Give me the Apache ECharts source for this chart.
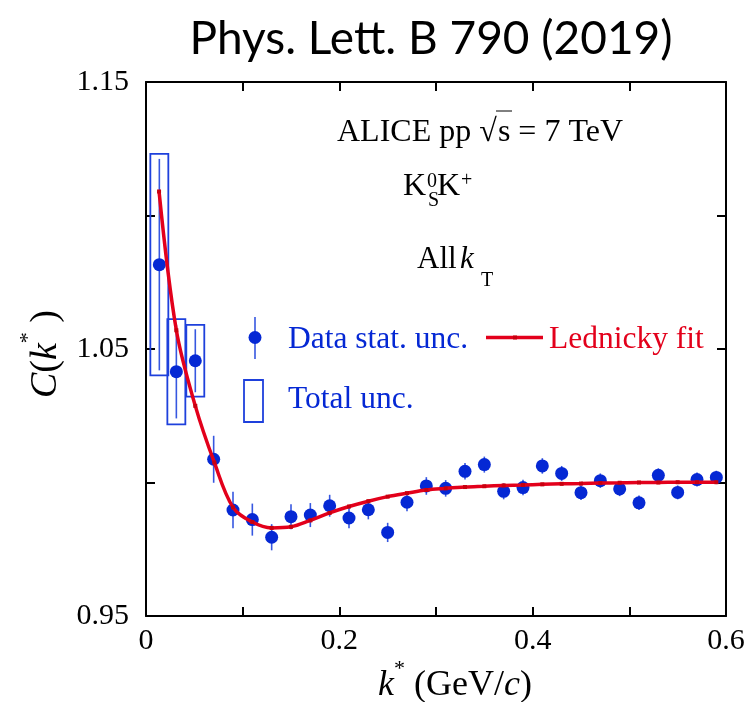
<!DOCTYPE html>
<html lang="en">
<head>
    <meta charset="UTF-8">
    <title>K0S K+ correlation function</title>
    <script src="https://cdn.jsdelivr.net/npm/echarts@6/dist/echarts.min.js"></script>
    <style>
        html, body { margin: 0; padding: 0; background: #fff; }
        #chart { width: 748px; height: 702px; }
    </style>
</head>
<body>
    <div id="chart"></div>
    <script>
        // k* bin centres (GeV/c)
        const kStar = [0.0138, 0.0314, 0.051, 0.07, 0.09, 0.11, 0.13, 0.15, 0.17, 0.19,
                       0.21, 0.23, 0.25, 0.27, 0.29, 0.31, 0.33, 0.35, 0.37, 0.39,
                       0.41, 0.43, 0.45, 0.47, 0.49, 0.51, 0.53, 0.55, 0.57, 0.59];
        // measured C(k*)
        const cData = [1.0816, 1.0415, 1.0456, 1.0087, 0.9897, 0.9861, 0.9795, 0.9872, 0.9878, 0.9913,
                       0.9867, 0.9898, 0.9813, 0.9926, 0.9987, 0.9978, 1.0042, 1.0067, 0.9967, 0.9981,
                       1.0062, 1.0034, 0.9962, 1.0007, 0.9976, 0.9924, 1.0027, 0.9963, 1.0011, 1.0019];
        // statistical uncertainty
        const statErr = [0.0396, 0.0175, 0.0118, 0.0088, 0.0068, 0.006, 0.0049, 0.0047, 0.0045, 0.0041,
                         0.0038, 0.0036, 0.0036, 0.0034, 0.0033, 0.0031, 0.0031, 0.003, 0.003, 0.0029,
                         0.0029, 0.0028, 0.0028, 0.0027, 0.0027, 0.0027, 0.0026, 0.0026, 0.0026, 0.0025];
        // total uncertainty boxes (only visible for the first bins)
        const totErr = [0.0415, 0.0197, 0.0134];
        // Lednicky fit evaluated at the bin centres
        const fitK = [0.0135, 0.0314, 0.051, 0.0707, 0.09, 0.11, 0.13, 0.15, 0.17, 0.19,
                      0.21, 0.23, 0.25, 0.27, 0.29, 0.31, 0.33, 0.35, 0.37, 0.39,
                      0.41, 0.43, 0.45, 0.47, 0.49, 0.51, 0.53, 0.55, 0.57, 0.59];
        const fitC = [1.109, 1.057, 1.0287, 1.0075, 0.9907, 0.9852, 0.983, 0.9834, 0.9858, 0.9886,
                      0.991, 0.993, 0.9947, 0.996, 0.9972, 0.9978, 0.9983, 0.9986, 0.9989, 0.9991,
                      0.9993, 0.9995, 0.9996, 0.9998, 0.9999, 1.0, 1.0, 1.0001, 1.0001, 1.0001];

        const BLUE = '#0528d4';
        const BAR_BLUE = '#3657e0';
        const BOX_BLUE = '#1e40dc';
        const RED = '#e3001b';
        const SERIF = '"Liberation Serif", "DejaVu Serif", serif';

        const pts = kStar.map((k, i) => [k, cData[i], statErr[i]]);
        const boxes = totErr.map((e, i) => [kStar[i], cData[i], e]);
        const fit = fitK.map((k, i) => [k, fitC[i]]);

        const chart = echarts.init(document.getElementById('chart'));

        const tickStyle = { show: true, inside: true, length: 9, lineStyle: { color: '#000', width: 2 } };
        const lineStyle = { show: true, onZero: false, lineStyle: { color: '#000', width: 2 } };

        const option = {
            animation: false,
            grid: { left: 146, right: 22, top: 82, bottom: 86, containLabel: false },
            xAxis: [{
                type: 'value', min: 0, max: 0.6, interval: 0.1, position: 'bottom',
                axisLine: lineStyle, axisTick: tickStyle, splitLine: { show: false },
                axisLabel: {
                    margin: 10, color: '#000', fontFamily: SERIF, fontSize: 30,
                    formatter: v => (Math.round(v * 10) % 2 === 0) ? (v === 0 ? '0' : v.toFixed(1)) : ''
                }
            }, {
                type: 'value', min: 0, max: 0.6, interval: 0.1, position: 'top',
                axisLine: lineStyle, axisTick: tickStyle, splitLine: { show: false },
                axisLabel: { show: false }
            }],
            yAxis: [{
                type: 'value', min: 0.95, max: 1.15, interval: 0.05, position: 'left',
                axisLine: lineStyle, axisTick: tickStyle, splitLine: { show: false },
                axisLabel: {
                    margin: 17, color: '#000', fontFamily: SERIF, fontSize: 30,
                    formatter: v => (Math.round(v * 100) % 10 === 5) ? v.toFixed(2) : ''
                }
            }, {
                type: 'value', min: 0.95, max: 1.15, interval: 0.05, position: 'right',
                axisLine: lineStyle, axisTick: tickStyle, splitLine: { show: false },
                axisLabel: { show: false }
            }],
            series: [{
                // total uncertainty boxes
                type: 'custom',
                data: boxes,
                z: 2,
                renderItem: (params, api) => {
                    const x = api.value(0), y = api.value(1), e = api.value(2);
                    const a = api.coord([x - 0.0093, y + e]);
                    const b = api.coord([x + 0.0093, y - e]);
                    return {
                        type: 'rect',
                        shape: { x: a[0], y: a[1], width: b[0] - a[0], height: b[1] - a[1] },
                        style: { fill: 'none', stroke: BOX_BLUE, lineWidth: 1.8 }
                    };
                }
            }, {
                // statistical error bars
                type: 'custom',
                data: pts,
                z: 3,
                renderItem: (params, api) => {
                    const x = api.value(0), y = api.value(1), e = api.value(2);
                    const t = api.coord([x, y + e]);
                    const b = api.coord([x, y - e]);
                    return {
                        type: 'line',
                        shape: { x1: t[0], y1: t[1], x2: b[0], y2: b[1] },
                        style: { stroke: BAR_BLUE, lineWidth: 1.6 }
                    };
                }
            }, {
                type: 'scatter',
                data: pts.map(p => [p[0], p[1]]),
                symbol: 'circle',
                symbolSize: 13,
                itemStyle: { color: BLUE, opacity: 1 },
                z: 4
            }, {
                type: 'line',
                data: fit,
                smooth: 0.35,
                symbol: 'rect',
                symbolSize: 4,
                showSymbol: true,
                itemStyle: { color: '#c8000f' },
                lineStyle: { color: RED, width: 3.5 },
                z: 5
            }],
            graphic: [
                // title
                { type: 'text', x: 431, y: 39, style: { text: 'Phys. Lett. B 790 (2019)', font: '46px Lato', fill: '#000', align: 'center', verticalAlign: 'middle' } },
                // annotations
                { type: 'text', x: 337, y: 133, style: { text: 'ALICE pp √', font: '32px ' + SERIF, fill: '#000', align: 'left', verticalAlign: 'middle' } },
                { type: 'text', x: 498, y: 133, style: { text: 's', font: '32px ' + SERIF, fill: '#000', align: 'left', verticalAlign: 'middle' } },
                { type: 'text', x: 623, y: 133, style: { text: '= 7 TeV', font: '32px ' + SERIF, fill: '#000', align: 'right', verticalAlign: 'middle' } },
                { type: 'line', shape: { x1: 496, y1: 111, x2: 512, y2: 111 }, style: { stroke: '#000', lineWidth: 1 } },
                { type: 'text', x: 403, y: 187, style: { text: 'K', font: '32px ' + SERIF, fill: '#000', verticalAlign: 'middle' } },
                { type: 'text', x: 427, y: 182, style: { text: '0', font: '20px ' + SERIF, fill: '#000', verticalAlign: 'middle' } },
                { type: 'text', x: 428, y: 201, style: { text: 'S', font: '20px ' + SERIF, fill: '#000', verticalAlign: 'middle' } },
                { type: 'text', x: 437, y: 187, style: { text: 'K', font: '32px ' + SERIF, fill: '#000', verticalAlign: 'middle' } },
                { type: 'text', x: 461, y: 181, style: { text: '+', font: '20px ' + SERIF, fill: '#000', verticalAlign: 'middle' } },
                { type: 'text', x: 417, y: 260, style: { text: 'All ', font: '31px ' + SERIF, fill: '#000', verticalAlign: 'middle' } },
                { type: 'text', x: 460, y: 260, style: { text: 'k', font: 'italic 31px ' + SERIF, fill: '#000', verticalAlign: 'middle' } },
                { type: 'text', x: 481, y: 281, style: { text: 'T', font: '20px ' + SERIF, fill: '#000', verticalAlign: 'middle' } },
                // legend
                { type: 'line', shape: { x1: 255, y1: 317, x2: 255, y2: 359 }, style: { stroke: BAR_BLUE, lineWidth: 1.6 } },
                { type: 'circle', shape: { cx: 255, cy: 337.5, r: 6.5 }, style: { fill: BLUE } },
                { type: 'text', x: 288, y: 340, style: { text: 'Data stat. unc.', font: '31.5px ' + SERIF, fill: BLUE, verticalAlign: 'middle' } },
                { type: 'rect', shape: { x: 244, y: 380, width: 19, height: 42 }, style: { fill: 'none', stroke: BOX_BLUE, lineWidth: 1.8 } },
                { type: 'text', x: 288, y: 400, style: { text: 'Total unc.', font: '31.5px ' + SERIF, fill: BLUE, verticalAlign: 'middle' } },
                { type: 'line', shape: { x1: 486, y1: 337.5, x2: 543, y2: 337.5 }, style: { stroke: RED, lineWidth: 3.5 } },
                { type: 'rect', shape: { x: 513, y: 335.5, width: 4, height: 4 }, style: { fill: '#c8000f' } },
                { type: 'text', x: 549, y: 340, style: { text: 'Lednicky fit', font: '31.5px ' + SERIF, fill: RED, verticalAlign: 'middle' } },
                // axis titles
                {
                    type: 'text', x: 455, y: 681,
                    style: {
                        text: '{i|k}{s|*}{n| (GeV/}{i|c}{n|)}', align: 'center', verticalAlign: 'middle', fill: '#000',
                        rich: {
                            i: { fontFamily: SERIF, fontStyle: 'italic', fontSize: 36, lineHeight: 46, verticalAlign: 'bottom' },
                            n: { fontFamily: SERIF, fontSize: 36, lineHeight: 46, verticalAlign: 'bottom' },
                            s: { fontFamily: SERIF, fontSize: 22, lineHeight: 22, verticalAlign: 'top' }
                        }
                    }
                },
                {
                    type: 'text', x: 41, y: 354, rotation: Math.PI / 2,
                    style: {
                        text: '{i|C}{n|(}{i|k}{s|*}{n| )}', align: 'center', verticalAlign: 'middle', fill: '#000',
                        rich: {
                            i: { fontFamily: SERIF, fontStyle: 'italic', fontSize: 38, lineHeight: 48, verticalAlign: 'bottom' },
                            n: { fontFamily: SERIF, fontSize: 38, lineHeight: 48, verticalAlign: 'bottom' },
                            s: { fontFamily: SERIF, fontSize: 22, lineHeight: 22, verticalAlign: 'top' }
                        }
                    }
                }
            ]
        };

        chart.setOption(option);
    </script>
</body>
</html>
